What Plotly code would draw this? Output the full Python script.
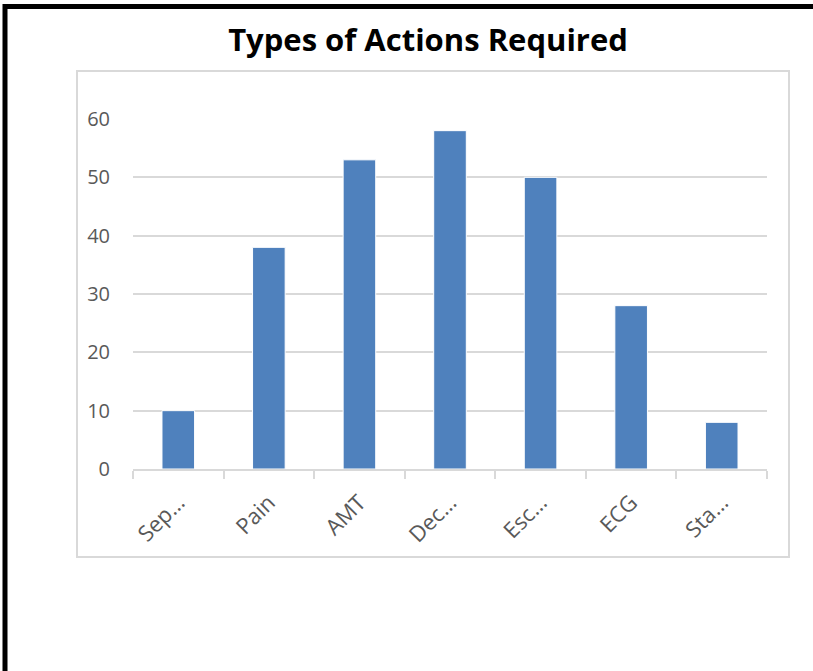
import plotly.graph_objects as go

categories = ["Sep…", "Pain", "AMT", "Dec…", "Esc…", "ECG", "Sta…"]
values = [10, 38, 53, 58, 50, 28, 8]
y_ticks = [0, 10, 20, 30, 40, 50, 60]

W, H = 813, 671
L, R, T, B = 133, 767, 119, 469
pw, ph = R - L, B - T


def px(x):
    return (x - L) / pw


def py(y):
    return (B - y) / ph


fig = go.Figure(go.Bar(
    x=categories, y=values,
    marker=dict(color="#4F81BD", line=dict(color="#ffffff", width=1)),
))

grid = "#d9d9d9"
fig.update_layout(
    width=W, height=H,
    margin=dict(l=L, r=W - R, t=T, b=H - B, pad=0),
    paper_bgcolor="white", plot_bgcolor="white",
    bargap=0.64,
    showlegend=False,
    title=dict(text="<b>Types of Actions Required</b>",
               font=dict(family="Open Sans", size=31, color="#000000"),
               x=428 / W, xanchor="center", xref="container",
               y=1 - 40 / H, yanchor="middle", yref="container"),
    font=dict(family="Open Sans", color="#595959", size=20),
    xaxis=dict(showline=True, linecolor=grid, linewidth=2,
               ticks="outside", tickson="boundaries", ticklen=8,
               tickcolor=grid, tickwidth=2, tickangle=-45,
               tickfont=dict(size=22, color="#595959"),
               ticklabelstandoff=10,
               showgrid=False),
    yaxis=dict(range=[0, 60], tickvals=y_ticks, showgrid=True,
               gridcolor=grid, gridwidth=2, zeroline=False,
               showline=False, ticks="", ticklabelstandoff=22,
               tickfont=dict(size=20, color="#595959")),
    shapes=[
        dict(type="rect", xref="paper", yref="paper",
             x0=px(77), x1=px(789), y0=py(557), y1=py(71),
             line=dict(color=grid, width=2), layer="below"),
        dict(type="rect", xref="paper", yref="paper",
             x0=px(5), x1=px(840), y0=py(720), y1=py(6.5),
             line=dict(color="#000000", width=5), layer="above"),
    ],
)

fig.write_html("out.html", config={"displayModeBar": False},
               post_script="document.body.style.margin='0';document.body.style.overflow='hidden';")
